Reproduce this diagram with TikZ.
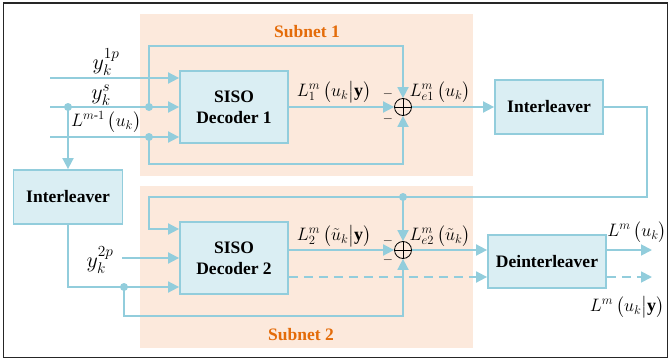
\RequirePackage{fix-cm}
\documentclass[tikz,border=0pt]{standalone}
\usepackage{amsmath}
\usepackage{fontspec}
\setmainfont{Liberation Serif}
\usetikzlibrary{arrows.meta,calc}

\definecolor{wireblue}{RGB}{146,205,220}
\definecolor{boxfill}{RGB}{218,238,243}
\definecolor{peach}{RGB}{252,233,220}
\definecolor{subnetorange}{RGB}{228,108,10}

\begin{document}
\begin{tikzpicture}[x=1pt,y=-1pt,
  blk/.style={draw=wireblue, fill=boxfill, line width=1.8pt,
    font=\fontsize{17.5}{21}\selectfont\bfseries, align=center, inner sep=0pt},
  wire/.style={draw=wireblue, line width=1.8pt},
  sig/.style={wire, -{Triangle[length=11pt,width=11pt]}},
  dashsig/.style={sig, dash pattern=on 9pt off 6pt},
  junction/.style={circle, fill=wireblue, inner sep=0pt, minimum size=8pt},
  summer/.style={circle, draw=black, line width=0.8pt, inner sep=0pt,
    minimum size=17pt,
    path picture={\draw[black, line width=0.8pt]
      (path picture bounding box.north) -- (path picture bounding box.south)
      (path picture bounding box.west) -- (path picture bounding box.east);}},
  lbl/.style={font=\fontsize{18}{20}\selectfont, inner sep=0pt},
  ylbl/.style={font=\fontsize{22}{24}\selectfont, inner sep=0pt},
  minus/.style={font=\fontsize{13}{14}\selectfont, inner sep=0pt},
  sublbl/.style={text=subnetorange, font=\fontsize{17.5}{21}\selectfont\bfseries, inner sep=0pt}
]
\useasboundingbox (0,0) rectangle (669,361);

% outer frame
\draw[black!85, line width=1.2pt] (3.5,3) rectangle (667.5,357.5);

% subnet panels
\fill[peach] (140,14) rectangle (473,176);
\fill[peach] (140,186) rectangle (473,348);
\node[sublbl] (s1lbl) at (307,32) {Subnet 1};
\node[sublbl] (s2lbl) at (301,335) {Subnet 2};

% blocks
\node[blk, minimum width=108pt, minimum height=72pt] (dec1) at (234,107) {SISO\\Decoder 1};
\node[blk, minimum width=108pt, minimum height=72pt] (dec2) at (234,258) {SISO\\Decoder 2};
\node[blk, minimum width=108pt, minimum height=54pt] (ilvR) at (549,107) {Interleaver};
\node[blk, minimum width=109pt, minimum height=54pt] (ilvL) at (68,197) {Interleaver};
\node[blk, minimum width=118pt, minimum height=53pt] (deint) at (547,261.5) {Deinterleaver};

% adders
\node[summer] (sum1) at (403,107) {};
\node[summer] (sum2) at (403,250) {};

% junction points and free ends
\coordinate (j1a) at (68,107);
\coordinate (j1b) at (149,107);
\coordinate (j1c) at (149,137);
\coordinate (j2a) at (403,197);
\coordinate (j2b) at (124,287);
\coordinate (in1) at (50,78);
\coordinate (in2) at (50,107);
\coordinate (in3) at (50,137);
\coordinate (in4) at (122,258);
\coordinate (out1) at (652,250);
\coordinate (out2) at (652,277);

% decoder 1 inputs
\draw[sig] (in1) -- ([yshift=29pt]dec1.west);
\draw[sig] (in2) -- (dec1.west);
\draw[sig] (in3) -- ([yshift=-30pt]dec1.west);
\draw[sig] (j1a) -- (ilvL.north);
\draw[sig] (j1b) -- (149,46) -| (sum1.north);
\draw[sig] (j1c) -- (149,164) -| (sum1.south);

% decoder 1 output
\draw[sig] (dec1.east) -- (sum1.west);
\draw[sig] (sum1.east) -- (ilvR.west);

% feedback to decoder 2
\draw[sig] (ilvR.east) -- (647,107) -- (647,197) -- (149,197) |- ([yshift=29pt]dec2.west);
\draw[sig] (j2a) -- (sum2.north);

% decoder 2 inputs
\draw[sig] (in4) -- (dec2.west);
\draw[sig] (ilvL.south) |- ([yshift=-29pt]dec2.west);
\draw[sig] (j2b) -- (124,316) -| (sum2.south);

% decoder 2 outputs
\draw[sig] (dec2.east |- sum2) -- (sum2.west);
\draw[sig] (sum2.east) -- (deint.west |- sum2);
\draw[dashsig] ([yshift=-19pt]dec2.east) -- (deint.west |- out2);
\draw[sig] (deint.east |- out1) -- (out1);
\draw[dashsig] (deint.east |- out2) -- (out2);

% junction dots
\foreach \j in {j1a,j1b,j1c,j2a,j2b}
  \node[junction] at (\j) {};

% signal labels
\node[ylbl] (ly1p) at (106,62) {$y_k^{1p}$};
\node[ylbl] (lys) at (101,95) {$y_k^{s}$};
\node[lbl] (lprior) at (106,122) {$L^{m\text{-}1}\,\bigl(u_k\bigr)$};
\node[lbl] (lL1) at (334,92) {$L_1^m\,\bigl(u_k\big|\mathbf{y}\bigr)$};
\node[lbl] (lLe1) at (440,92) {$L_{e1}^m\,\bigl(u_k\bigr)$};
\node[lbl] (lL2) at (334,236) {$L_2^m\,\bigl(\tilde{u}_k\big|\mathbf{y}\bigr)$};
\node[lbl] (lLe2) at (440,236) {$L_{e2}^m\,\bigl(\tilde{u}_k\bigr)$};
\node[ylbl] (ly2p) at (100,260) {$y_k^{2p}$};
\node[lbl] (lout1) at (637,232) {$L^m\,\bigl(u_k\bigr)$};
\node[lbl] (lout2) at (627,307) {$L^m\,\bigl(u_k\big|\mathbf{y}\bigr)$};

% minus signs at the adders
\node[minus] (m1a) at (388,94) {$-$};
\node[minus] (m1b) at (388,119) {$-$};
\node[minus] (m2a) at (388,241) {$-$};
\node[minus] (m2b) at (388,260) {$-$};
\end{tikzpicture}
\end{document}
